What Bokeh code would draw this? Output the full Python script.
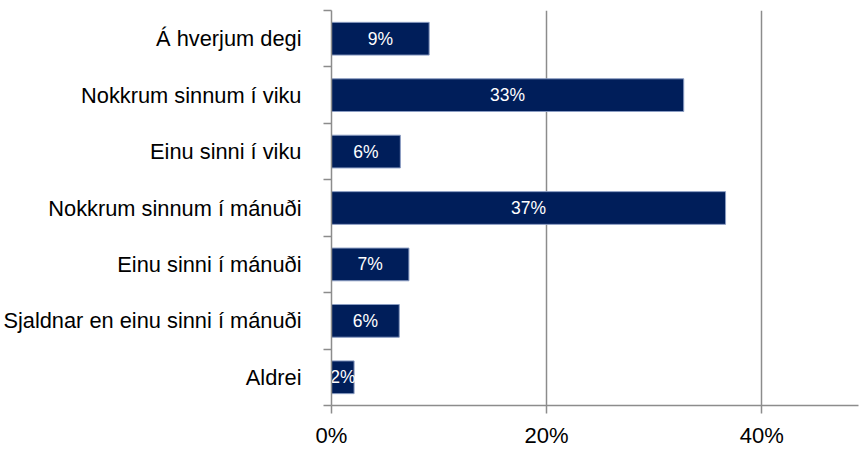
import numpy as np
from bokeh.plotting import figure
from bokeh.models import FixedTicker, Range1d, ColumnDataSource
from bokeh.core.properties import value
from bokeh.embed import file_html
from bokeh.resources import INLINE

categories = [
    "Á hverjum degi",
    "Nokkrum sinnum í viku",
    "Einu sinni í viku",
    "Nokkrum sinnum í mánuði",
    "Einu sinni í mánuði",
    "Sjaldnar en einu sinni í mánuði",
    "Aldrei",
]
shares = [0.0908, 0.3275, 0.064, 0.3664, 0.072, 0.063, 0.021]
x_ticks = [0.0, 0.2, 0.4]
x_tick_labels = ["0%", "20%", "40%"]

FONT = "Liberation Sans"
n = len(categories)
pos = [n - 1 - i + 0.5 for i in range(n)]
labels = [f"{round(v * 100)}%" for v in shares]

src = ColumnDataSource(dict(
    y=pos, right=shares, mid=[v / 2 for v in shares], label=labels, cat=categories
))

p = figure(width=859, height=450, output_backend="svg", toolbar_location=None,
           x_range=Range1d(0, 0.49), y_range=Range1d(0, n),
           min_border_left=330, min_border_right=1, min_border_top=10,
           min_border_bottom=44)
p.outline_line_color = None
p.background_fill_color = "white"

p.hbar(y="y", left=0, right="right", height=0.58, source=src,
       fill_color="#001e5a", line_color="#8a9cc2", line_width=1)
p.text(x="mid", y="y", text="label", source=src, text_align="center",
       text_baseline="middle", text_color="white",
       text_font=value(FONT), text_font_size="17.5px")

# x axis
p.xaxis.ticker = FixedTicker(ticks=x_ticks)
p.xaxis.major_label_overrides = {t: l for t, l in zip(x_ticks, x_tick_labels)}
p.xaxis.major_label_text_font = FONT
p.xaxis.major_label_text_font_size = "22px"
p.xaxis.major_label_text_color = "black"
p.xaxis.axis_line_color = "#8c8c8c"
p.xaxis.axis_line_width = 1.5
p.xaxis.major_tick_line_color = "#8c8c8c"
p.xaxis.major_tick_line_width = 1.5
p.xaxis.major_tick_out = 8
p.xaxis.major_tick_in = 0
p.xaxis.minor_tick_line_color = None
p.xaxis.major_label_standoff = 9

# y axis
p.yaxis.ticker = FixedTicker(ticks=pos, minor_ticks=list(range(n + 1)))
p.yaxis.major_label_overrides = {y: c for y, c in zip(pos, categories)}
p.yaxis.major_label_text_font = FONT
p.yaxis.major_label_text_font_size = "21.8px"
p.yaxis.major_label_text_color = "black"
p.yaxis.axis_line_color = "#8c8c8c"
p.yaxis.axis_line_width = 1.5
p.yaxis.major_tick_line_color = None
p.yaxis.major_tick_out = 0
p.yaxis.major_tick_in = 0
p.yaxis.minor_tick_line_color = "#8c8c8c"
p.yaxis.minor_tick_line_width = 1.5
p.yaxis.minor_tick_out = 8
p.yaxis.minor_tick_in = 0
p.yaxis.major_label_standoff = 22

p.xgrid.ticker = FixedTicker(ticks=x_ticks[1:])
p.xgrid.grid_line_color = "#8c8c8c"
p.xgrid.grid_line_width = 1.5
p.ygrid.grid_line_color = None

open("out.html", "w").write(file_html(p, INLINE))
